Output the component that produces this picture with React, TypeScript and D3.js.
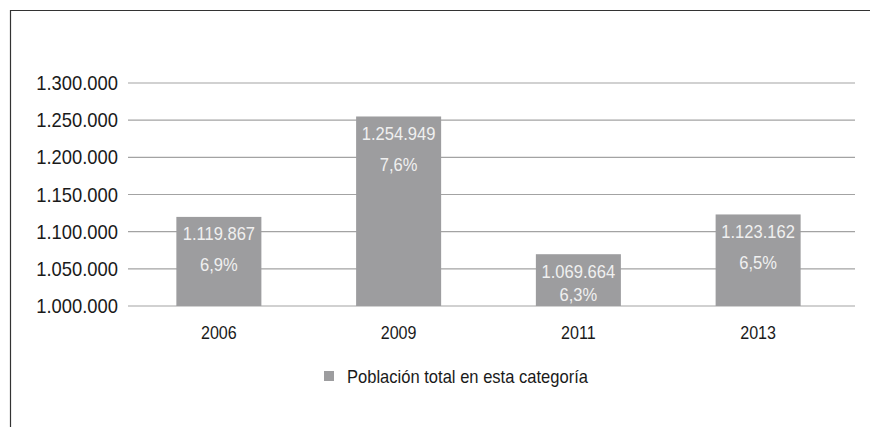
import React from "react";
import * as d3 from "d3";

const categories = ["2006", "2009", "2011", "2013"];
const values = [1119867, 1254949, 1069664, 1123162];
const percents = ["6,9%", "7,6%", "6,3%", "6,5%"];
const yTicks = [1000000, 1050000, 1100000, 1150000, 1200000, 1250000, 1300000];
const legendLabel = "Población total en esta categoría";

const W = 870;
const H = 427;
const FONT = "'Liberation Sans', Arial, sans-serif";
const BAR = "#9d9d9f";
const GRID = "#a3a3a3";
const SX = 0.92;

const fmt = (v: number) => {
  const s = Math.round(v).toString();
  return s.replace(/\B(?=(\d{3})+(?!\d))/g, ".");
};

function T(props: {
  x: number;
  y: number;
  size: number;
  fill: string;
  anchor?: "start" | "middle" | "end";
  children: React.ReactNode;
}) {
  return (
    <text
      transform={`translate(${props.x},${props.y}) scale(${SX},1)`}
      dy="0.35em"
      textAnchor={props.anchor || "start"}
      fontSize={props.size}
      fill={props.fill}
    >
      {props.children}
    </text>
  );
}

export default function App() {
  const y = d3.scaleLinear().domain([1000000, 1300000]).range([306, 83]);
  const x = d3
    .scaleBand<string>()
    .domain(categories)
    .range([129, 848])
    .paddingInner(0.527)
    .paddingOuter(0.2635);
  const bw = x.bandwidth();
  return (
    <svg
      width={W}
      height={H}
      style={{ position: "absolute", left: 0, top: 0, background: "#fff" }}
      fontFamily={FONT}
    >
      <rect x={0} y={0} width={W} height={H} fill="#fff" />
      <line x1={10} y1={10.5} x2={W} y2={10.5} stroke="#333" strokeWidth={1.2} />
      <line x1={10.5} y1={10} x2={10.5} y2={H} stroke="#333" strokeWidth={1.2} />
      {yTicks.map((t) => (
        <g key={t}>
          <line x1={128} x2={855} y1={y(t)} y2={y(t)} stroke={GRID} strokeWidth={1.2} />
          <T x={118} y={y(t)} size={20} fill="#1a1a1a" anchor="end">
            {fmt(t)}
          </T>
        </g>
      ))}
      {categories.map((c, i) => {
        const top = y(values[i]);
        const cx = (x(c) as number) + bw / 2;
        const base = y(1000000);
        return (
          <g key={c}>
            <rect x={x(c)} y={top} width={bw} height={base - top} fill={BAR} />
            <T x={cx} y={top + 17} size={18} fill="#f0f0f0" anchor="middle">
              {fmt(values[i])}
            </T>
            <T x={cx} y={Math.min(top + 48, base - 11)} size={18} fill="#f0f0f0" anchor="middle">
              {percents[i]}
            </T>
            <T x={cx} y={333} size={17.5} fill="#1a1a1a" anchor="middle">
              {c}
            </T>
          </g>
        );
      })}
      <rect x={324} y={371} width={10} height={10} fill={BAR} />
      <T x={347} y={377} size={18} fill="#1a1a1a">
        {legendLabel}
      </T>
    </svg>
  );
}
